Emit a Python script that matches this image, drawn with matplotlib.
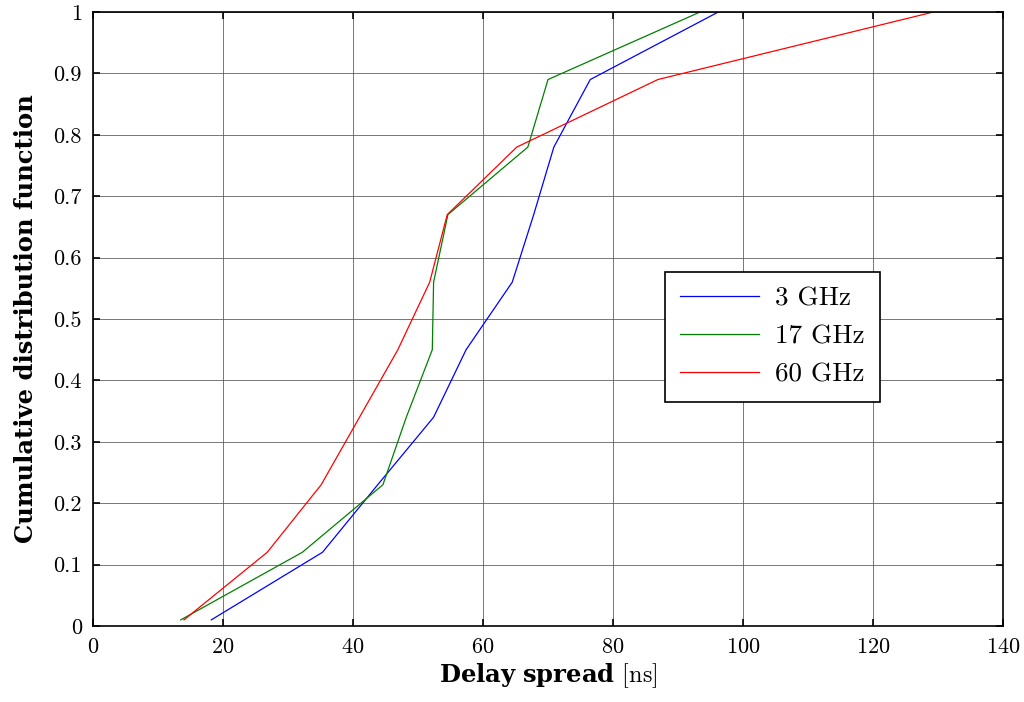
import matplotlib
matplotlib.use("Agg")
import matplotlib.pyplot as plt
from matplotlib.ticker import FixedLocator, FixedFormatter

cdf = [0.01, 0.12, 0.23, 0.34, 0.45, 0.56, 0.67, 0.78, 0.89, 1.0]
ds_3ghz = [18.2, 35.3, 43.8, 52.4, 57.4, 64.5, 67.8, 70.9, 76.5, 96.2]
ds_17ghz = [13.5, 32.2, 44.6, 48.2, 52.2, 52.4, 54.6, 66.9, 70.0, 93.4]
ds_60ghz = [14.0, 26.8, 35.1, 41.0, 46.9, 51.8, 54.5, 65.2, 86.9, 129.3]

labels = ["3 GHz", "17 GHz", "60 GHz"]
colors = ["#0000ff", "#008000", "#ff0000"]

xticks = [0, 20, 40, 60, 80, 100, 120, 140]
yticks = [0, 0.1, 0.2, 0.3, 0.4, 0.5, 0.6, 0.7, 0.8, 0.9, 1.0]
yticklabels = ["0", "0.1", "0.2", "0.3", "0.4", "0.5", "0.6", "0.7", "0.8", "0.9", "1"]

plt.rcParams["font.family"] = ["cmr10", "DejaVu Serif"]
plt.rcParams["mathtext.fontset"] = "custom"
plt.rcParams["mathtext.bf"] = "DejaVu Serif:bold"
plt.rcParams["mathtext.rm"] = "cmr10"
plt.rcParams["axes.formatter.use_mathtext"] = True

fig = plt.figure(figsize=(10.24, 7.02), dpi=100)
ax = fig.add_axes([93/1024, 1-626/702, 910/1024, 614/702])

for xs, lab, c in zip([ds_3ghz, ds_17ghz, ds_60ghz], labels, colors):
    ax.plot(xs, cdf, color=c, lw=0.9, label=lab)

ax.set_xlim(0, 140)
ax.set_ylim(0, 1)
ax.xaxis.set_major_locator(FixedLocator(xticks))
ax.yaxis.set_major_locator(FixedLocator(yticks))
ax.yaxis.set_major_formatter(FixedFormatter(yticklabels))
ax.tick_params(direction="in", top=True, right=True, length=5, width=1.2,
               labelsize=16, pad=8)
ax.grid(True, color="#555555", lw=0.7, alpha=0.8)
for s in ax.spines.values():
    s.set_linewidth(1.2)

ax.set_xlabel(r"$\mathbf{Delay\ spread}$ [ns]", fontsize=17.5, labelpad=3)
ax.set_ylabel("Cumulative distribution function", family="DejaVu Serif",
              weight="bold", fontsize=17.5, labelpad=11)

leg = ax.legend(loc="upper left", bbox_to_anchor=(0.629, 0.577), fontsize=19.5,
                frameon=True, fancybox=False, edgecolor="black", framealpha=1,
                handlelength=2.9, borderpad=0.55, labelspacing=0.52, handletextpad=0.6,
                borderaxespad=0)
leg.get_frame().set_linewidth(1.2)

fig.savefig("out.png", dpi=100)
